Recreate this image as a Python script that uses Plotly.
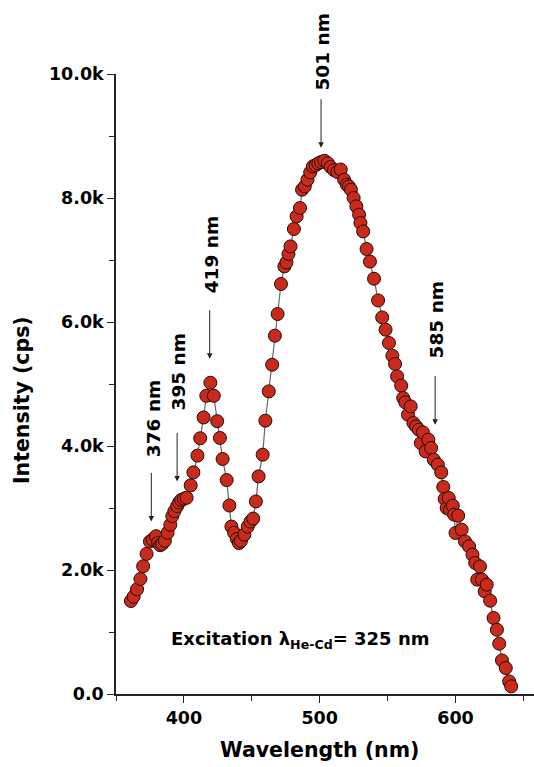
import plotly.graph_objects as go

# ---- data ----
wavelength = [361, 363, 365.5, 368, 370, 372.5, 375, 377, 379.5, 381, 382.5, 384, 386, 388, 390, 391.5,
              393, 395, 396.5, 398, 400, 402, 405, 407, 410, 412, 414.5, 416.5, 419.5, 422, 424.5, 426.5,
              428.5, 431.5, 433.5, 435, 437, 439, 440.5, 442, 444.5, 447, 449, 451, 453, 455, 458, 460,
              462.5, 465, 467, 469, 471.5, 474, 475.5, 477, 478.5, 481, 483, 485.5, 487, 489, 491, 493,
              495, 497, 499, 501, 503.5, 506, 508, 510.5, 513, 515.5, 518, 520, 521.5, 523, 525, 527,
              529, 530, 532, 534.5, 537, 540, 543, 546, 548.5, 551, 553.5, 555.5, 557, 560, 561.5, 563,
              565, 567, 569, 571, 573, 574.5, 576, 578, 580, 582, 584, 587, 589.5, 591, 592, 593.5, 595,
              596, 598, 599, 600, 602, 604.5, 607, 610, 612.5, 614.5, 616, 618, 619.5, 621.5, 623, 625.5,
              628, 630.5, 632.2, 634.2, 637, 639.5, 641]
intensity = [1500, 1570, 1690, 1855, 2060, 2260, 2460, 2490, 2545, 2440, 2400, 2420, 2470, 2600, 2730, 2870,
             2950, 3030, 3090, 3130, 3150, 3165, 3365, 3575, 3845, 4125, 4460, 4810, 5020, 4810, 4400, 4130,
             3790, 3450, 3040, 2700, 2600, 2500, 2435, 2470, 2570, 2700, 2780, 2830, 3106, 3510, 3860, 4408,
             4881, 5311, 5779, 6129, 6613, 6897, 6960, 7097, 7219, 7500, 7703, 7839, 8134, 8187, 8295, 8413,
             8510, 8530, 8560, 8580, 8600, 8560, 8500, 8450, 8420, 8460, 8295, 8215, 8187, 8134, 8000, 7865,
             7731, 7597, 7461, 7177, 6975, 6698, 6348, 6074, 5876, 5661, 5456, 5323, 5123, 4973, 4774, 4703,
             4505, 4639, 4371, 4316, 4263, 4048, 4219, 3913, 4102, 3968, 3779, 3698, 3574, 3339, 3145, 3000,
             3161, 2973, 3037, 2892, 2597, 2876, 2650, 2461, 2381, 2247, 2113, 1844, 2058, 1844, 1655, 1763,
             1505, 1226, 1037, 811, 542, 419, 203, 123]

y_tick_vals = [0, 2000, 4000, 6000, 8000, 10000]
y_tick_text = ["0.0", "2.0k", "4.0k", "6.0k", "8.0k", "10.0k"]
x_tick_vals = [400, 500, 600]
x_minor_vals = [350, 450, 550, 650]

peak_nm = [376, 395, 419, 501, 585]
peak_labels = ["376 nm", "395 nm", "419 nm", "501 nm", "585 nm"]
arrow_tip_y = [2784, 3429, 5408, 8811, 4344]
# label centres as fraction of the plot height (paper coords)
label_center_paper = [0.445, 0.520, 0.710, 1.036, 0.604]

FONT = "DejaVu Sans"

fig = go.Figure()
fig.add_trace(go.Scatter(
    x=wavelength, y=intensity, mode="lines+markers",
    line=dict(color="#666666", width=1.2),
    marker=dict(size=13, color="#C82A1C", line=dict(color="#2a0a05", width=1)),
    cliponaxis=False, showlegend=False,
))

ann = []
for nm, lab, tip, cy in zip(peak_nm, peak_labels, arrow_tip_y, label_center_paper):
    ann.append(dict(x=nm, y=tip, xref="x", yref="y", text="", showarrow=True,
                    ax=0, ay=-50, arrowhead=2, arrowsize=1.1, arrowwidth=1, arrowcolor="#222"))
    ann.append(dict(x=nm + 1.3, y=cy, xref="x", yref="paper", text=lab, showarrow=False,
                    textangle=-90, xanchor="center", yanchor="middle",
                    font=dict(family=FONT, size=18.5, color="black", weight="bold")))

ann.append(dict(x=485.4, y=876, xref="x", yref="y",
                text="Excitation λ<sub>He-Cd</sub>= 325 nm", showarrow=False,
                xanchor="center", yanchor="middle",
                font=dict(family=FONT, size=18, color="black", weight="bold")))
ann.append(dict(x=-0.225, y=0.474, xref="paper", yref="paper", text="Intensity (cps)",
                showarrow=False, textangle=-90, xanchor="center", yanchor="middle",
                font=dict(family=FONT, size=20.5, color="black", weight="bold")))
ann.append(dict(x=0.488, y=-0.068, xref="paper", yref="paper", text="Wavelength (nm)",
                showarrow=False, xanchor="center", yanchor="top",
                font=dict(family=FONT, size=20.5, color="black", weight="bold")))

fig.update_layout(
    width=534, height=767,
    margin=dict(l=116, r=0, t=74, b=73),
    paper_bgcolor="white", plot_bgcolor="white",
    annotations=ann,
    xaxis=dict(range=[350, 657.8], showline=True, linecolor="#222", linewidth=1.5,
               showgrid=False, zeroline=False, ticks="outside", ticklen=7, tickwidth=1.2,
               tickcolor="#222", tickvals=x_tick_vals,
               tickfont=dict(family=FONT, size=17.5, color="black", weight="bold"),
               minor=dict(tickvals=x_minor_vals, ticks="outside", ticklen=5, tickcolor="#222")),
    yaxis=dict(range=[0, 10000], showline=True, linecolor="#222", linewidth=1.5,
               showgrid=False, zeroline=False, ticks="outside", ticklen=7, tickwidth=1.2,
               tickcolor="#222", tickvals=y_tick_vals, ticktext=y_tick_text,
               tickfont=dict(family=FONT, size=17.5, color="black", weight="bold"),
               minor=dict(dtick=1000, ticks="outside", ticklen=5, tickcolor="#222")),
)

fig.write_html("out.html")
